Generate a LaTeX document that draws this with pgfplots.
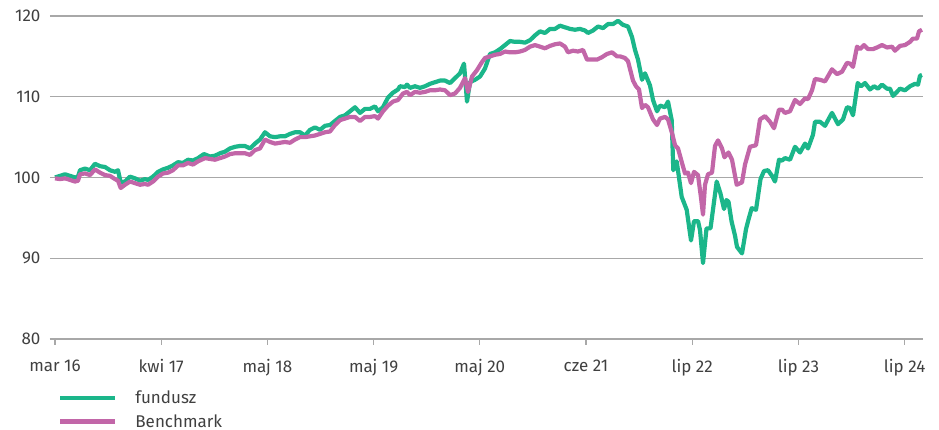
\documentclass[border=0pt]{standalone}
\usepackage{fontspec}
\setmainfont{Fira Sans}
\usepackage{pgfplots}
\usepackage{pgfplotstable}
\pgfplotsset{compat=1.18}
\definecolor{fund}{HTML}{1BB68A}
\definecolor{bench}{HTML}{C266A8}
\definecolor{gridc}{HTML}{A8A8A8}
\definecolor{txt}{HTML}{404040}

\pgfplotstableread{
x v
55 100.0
60 100.2
65 100.4
70 100.2
75 100.0
78 100.1
80 100.9
85 101.1
90 100.9
95 101.7
100 101.4
105 101.3
110 100.9
115 100.7
118 100.9
120.7 99.4
125 99.5
130 100.1
135 99.9
140 99.6
145 99.8
148 99.7
153 100.1
158 100.7
163 101.0
168 101.2
173 101.5
178 101.9
183 101.8
188 102.2
193 102.1
198 102.4
204 102.9
210 102.6
215 102.7
220 103.0
225 103.2
230 103.6
235 103.8
240 103.9
245 103.9
250 103.6
255 104.2
260 104.7
265 105.6
270 105.1
275 105.0
280 105.1
285 105.1
290 105.4
295 105.6
300 105.6
305 105.2
310 105.9
315 106.2
320 105.9
325 106.4
330 106.5
335 107.0
340 107.5
345 107.7
350 108.2
355 108.7
360 108.0
365 108.5
370 108.5
375 108.8
378 108.2
383 108.7
388 109.9
393 110.5
398 110.9
400 111.3
405 111.2
407 111.5
410 111.1
415 111.3
420 111.1
425 111.3
430 111.6
435 111.8
440 112.0
445 112.0
450 111.7
455 112.3
460 112.9
464 114.1
467 109.4
470 111.8
475 112.1
480 112.5
485 113.5
490 115.3
495 115.5
500 115.9
505 116.4
510 116.9
515 116.8
520 116.8
525 116.7
530 117.0
535 117.6
540 118.1
545 117.9
550 118.4
555 118.4
560 118.8
565 118.6
570 118.4
575 118.3
580 118.4
585 118.2
588 117.9
593 118.2
598 118.7
603 118.5
608 119.0
613 119.0
618 119.4
623 118.9
628 118.7
632 117.4
635 115.8
638 114.6
642 112.1
645 112.9
650 111.4
653 109.6
657 108.2
660 108.9
665 108.7
668 109.4
671.7 107.1
673.3 100.9
676.7 102.0
681.7 97.6
686.7 96.0
691 92.2
694 94.6
698 94.6
700 93.5
703 89.4
706.5 93.7
710.5 93.7
716.7 99.5
720.5 98.0
724 96.1
726.5 97.2
728.5 97.0
731.5 94.6
735 92.8
737 91.4
742 90.6
746 93.6
748.5 94.8
751.7 96.2
756 96.0
760.5 99.8
764 100.8
768 100.9
772 100.2
775 99.5
779 102.2
782 102.1
785 102.4
790 102.2
795 103.8
800 103.1
805 104.2
808 103.6
813 105.3
815 106.9
820 106.9
825 106.4
828 107.1
832 108.0
838 106.6
843 107.2
847 108.7
850 108.6
853 107.7
857.7 111.7
861 111.3
865 111.7
870 110.9
874 111.3
878 111.0
882 111.5
887 111.0
890 111.0
893 110.1
900 111.0
905 110.8
910 111.3
915 111.6
918 111.5
920 112.6
922 112.7
}\fundusz

\pgfplotstableread{
x v
55 99.9
60 99.8
65 99.9
70 99.7
75 99.5
78 99.6
80 100.4
85 100.5
90 100.3
95 101.0
100 100.6
105 100.3
110 100.2
115 99.8
118 99.6
120.7 98.7
125 99.1
130 99.5
135 99.3
140 99.1
145 99.2
148 99.1
153 99.5
158 100.1
163 100.5
168 100.6
173 100.9
178 101.5
183 101.5
188 101.8
193 101.6
198 102.0
205 102.4
210 102.3
215 102.2
220 102.4
225 102.6
230 102.9
235 103.0
240 103.0
245 103.0
250 102.8
255 103.4
260 103.6
265 104.7
270 104.4
275 104.2
280 104.3
285 104.4
290 104.3
295 104.7
300 105.0
305 105.0
310 105.1
315 105.2
320 105.4
325 105.6
330 105.7
335 106.5
340 107.1
345 107.3
350 107.5
355 107.5
360 107.0
365 107.5
370 107.5
375 107.6
378 107.3
383 108.2
388 108.9
393 109.4
398 109.6
403 110.4
407 110.6
410 110.2
415 110.6
420 110.5
425 110.6
430 110.8
435 110.8
440 110.9
445 110.8
450 110.2
455 110.4
460 111.1
465 112.3
468 110.6
472 112.5
477 113.3
482 114.3
485 114.8
490 115.0
495 115.2
500 115.3
505 115.6
510 115.5
515 115.5
520 115.6
525 115.8
530 116.2
535 116.4
540 116.2
545 116.0
550 116.3
555 116.5
560 116.6
565 116.2
568 115.5
573 115.7
578 115.6
583 115.8
587 114.6
592 114.6
597 114.6
602 114.9
607 115.3
612 115.5
617 115.0
620 115.0
625 114.8
628 114.4
633 112.0
636 111.3
639 110.9
642 108.6
645 109.0
648 108.7
653 107.2
657 106.5
660 107.3
665 107.5
668 107.2
672 105.5
675 104.0
678 103.6
682 101.8
685 100.5
688 100.6
691 99.3
694 100.7
698 100.3
701 97.5
703 95.4
705 99.1
708 100.4
712 100.6
715 103.9
718 104.6
722 103.6
724.5 102.5
728.5 103.1
732 102.2
736.7 99.1
742 99.4
745 101.6
750 103.8
756 104.0
760 107.2
765 107.6
770 106.9
774 106.1
779 108.4
782 108.4
785 108.0
790 108.2
795 109.6
800 109.1
805 109.8
808 109.7
812 110.8
815 112.2
820 112.1
825 111.9
832 113.4
837 112.8
842 113.1
847 114.2
850 114.1
853 113.7
857 116.2
860 115.9
864 116.4
868 115.9
873 115.9
877 116.1
882 116.4
887 116.1
892 116.2
895 115.7
900 116.3
905 116.4
910 116.8
913 117.2
917 117.2
919 118.1
922 118.3
}\benchmark

\begin{document}
\begin{tikzpicture}
\path[use as bounding box] (-50pt,-91pt) rectangle (889pt,339pt);
\begin{axis}[
  at={(0pt,0pt)}, anchor=south west,
  scale only axis, width=873pt, height=323pt,
  xmin=50, xmax=923, ymin=80, ymax=120,
  ytick={80,90,100,110,120},
  xtick={55,161.2,267.4,373.6,479.8,586,692.2,798.4,904.6},
  xticklabels={mar 16,kwi 17,maj 18,maj 19,maj 20,cze 21,lip 22,lip 23,lip 24},
  axis x line*=bottom, axis y line*=left,
  y axis line style={draw=none},
  x axis line style={gridc, line width=1.2pt, -},
  ytick style={draw=none},
  xtick style={gridc, line width=1.2pt},
  tick align=outside, major tick length=6pt,
  ymajorgrids, grid style={gridc, line width=1.2pt},
  tick label style={font=\fontsize{17}{20}\selectfont, text=txt},
  xticklabel style={yshift=-11pt},
  /pgf/number format/assume math mode=true,
  legend style={at={(axis description cs:0,0)}, anchor=north west, xshift=8pt, yshift=-50pt,
    draw=none, fill=none, font=\fontsize{17}{20}\selectfont, text=txt,
    row sep=5pt, inner sep=0pt,
    /tikz/every odd column/.append style={column sep=16pt}},
  legend cell align=left,
  legend image code/.code={\draw[#1, line width=4.2pt] (0pt,0pt) -- (55pt,0pt);},
]
\addplot[fund, line width=4.2pt, line join=round] table[x=x, y=v] {\fundusz};
\addlegendentry{fundusz}
\addplot[bench, line width=4.2pt, line join=round] table[x=x, y=v] {\benchmark};
\addlegendentry{Benchmark}
\end{axis}
\end{tikzpicture}
\end{document}
